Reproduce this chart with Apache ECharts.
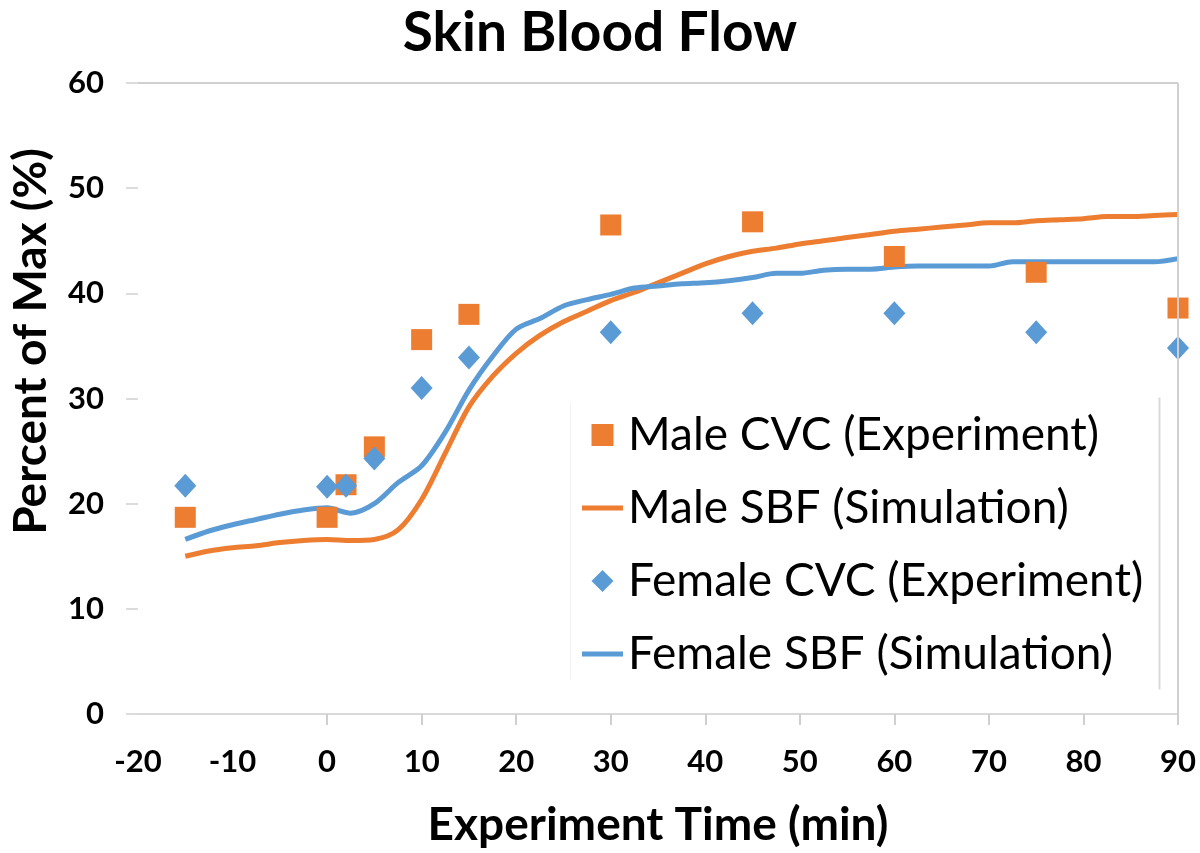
<!DOCTYPE html>
<html>
<head>
<meta charset="utf-8">
<script src="https://cdn.jsdelivr.net/npm/echarts@6/dist/echarts.min.js"></script>
<style>
html,body{margin:0;padding:0;background:#fff;}
#chart{width:1200px;height:853px;}
</style>
</head>
<body>
<div id="chart"></div>
<script>
// Experimental time points (min)
const expTime = [-15, 0, 2, 5, 10, 15, 30, 45, 60, 75, 90];
const maleCVC = [18.7, 18.7, 21.8, 25.4, 35.6, 38.0, 46.5, 46.8, 43.5, 42.0, 38.6];
const femaleCVC = [21.7, 21.6, 21.7, 24.3, 31.0, 33.9, 36.3, 38.1, 38.1, 36.3, 34.8];

// Simulation time points (min)
const simTime = [-15, -12.5, -10, -7.5, -5, -2.5, 0, 2.5, 5, 7.5, 10, 12.5, 15, 17.5, 20, 22.5, 25, 27.5, 30, 32.5, 35, 37.5, 40, 42.5, 45, 47.5, 50, 52.5, 55, 57.5, 60, 62.5, 65, 67.5, 70, 72.5, 75, 77.5, 80, 82.5, 85, 87.5, 90];
const maleSBF = [15.0, 15.5, 15.8, 16.0, 16.3, 16.5, 16.6, 16.5, 16.6, 17.5, 20.4, 24.8, 29.2, 32.1, 34.3, 36.0, 37.3, 38.3, 39.3, 40.1, 41.0, 41.9, 42.8, 43.5, 44.0, 44.3, 44.7, 45.0, 45.3, 45.6, 45.9, 46.1, 46.3, 46.5, 46.7, 46.7, 46.9, 47.0, 47.1, 47.3, 47.3, 47.4, 47.5];
const femaleSBF = [16.6, 17.4, 18.0, 18.5, 19.0, 19.4, 19.6, 19.1, 20.0, 22.0, 23.6, 26.8, 30.8, 34.0, 36.6, 37.6, 38.8, 39.4, 39.9, 40.5, 40.7, 40.9, 41.0, 41.2, 41.5, 41.9, 41.9, 42.2, 42.3, 42.3, 42.5, 42.6, 42.6, 42.6, 42.6, 43.0, 43.0, 43.0, 43.0, 43.0, 43.0, 43.0, 43.3];

const xTicks = [0, 10, 20, 30, 40, 50, 60, 70, 80, 90];
const labels = {
  title: 'Skin Blood Flow',
  xName: 'Experiment Time (min)',
  yName: 'Percent of Max (%)',
  s1: 'Male CVC (Experiment)',
  s2: 'Male SBF (Simulation)',
  s3: 'Female CVC (Experiment)',
  s4: 'Female SBF (Simulation)'
};

const ORANGE = '#ED7D31';
const BLUE = '#5B9BD5';
const FONT = 'Lato';
const ICON_SQUARE = 'path://M0,0H22V22H0Z';
const ICON_DIAMOND = 'path://M11,0L22,11L11,22L0,11Z';
const ICON_LINE = 'path://M0,0H41V5H0Z';

const zip = (a, b) => a.map((v, i) => [v, b[i]]);

const chart = echarts.init(document.getElementById('chart'), null, {renderer: 'canvas'});
chart.setOption({
  animation: false,
  backgroundColor: '#ffffff',
  title: {
    text: labels.title,
    left: 'center',
    top: 1,
    textStyle: {fontFamily: FONT, fontWeight: 'bold', fontSize: 55, color: '#000'}
  },
  grid: {left: 134, right: 22, top: 83, bottom: 132, containLabel: false},
  legend: {
    orient: 'vertical',
    left: 577,
    top: 407,
    itemWidth: 41,
    itemHeight: 22,
    itemGap: 27,
    textStyle: {fontFamily: FONT, fontSize: 46, color: '#000'},
    data: [
      {name: labels.s1, icon: ICON_SQUARE},
      {name: labels.s2, icon: ICON_LINE},
      {name: labels.s3, icon: ICON_DIAMOND},
      {name: labels.s4, icon: ICON_LINE}
    ]
  },
  xAxis: {
    type: 'value',
    min: -20, max: 90, interval: 10,
    name: labels.xName,
    nameLocation: 'middle',
    nameGap: 88,
    nameTextStyle: {fontFamily: FONT, fontWeight: 'bold', fontSize: 46, color: '#000'},
    axisLine: {show: true, onZero: false, lineStyle: {color: '#d9d9d9', width: 2}},
    axisTick: {show: true, customValues: xTicks, length: 11, lineStyle: {color: '#cfcfcf', width: 2}},
    axisLabel: {fontFamily: FONT, fontWeight: 'bold', fontSize: 31, color: '#000', margin: 32},
    splitLine: {show: false}
  },
  yAxis: {
    type: 'value',
    min: 0, max: 60, interval: 10,
    name: labels.yName,
    nameLocation: 'middle',
    nameGap: 84,
    nameTextStyle: {fontFamily: FONT, fontWeight: 'bold', fontSize: 46, color: '#000', padding: [0, 0, 0, 114]},
    axisLine: {show: false, onZero: false},
    axisTick: {show: true, length: 12, lineStyle: {color: '#dcdcdc', width: 2}},
    axisLabel: {fontFamily: FONT, fontWeight: 'bold', fontSize: 31, color: '#000', margin: 34},
    splitLine: {show: false}
  },
  series: [
    {
      name: labels.s1,
      type: 'scatter',
      symbol: 'rect',
      symbolSize: 21,
      itemStyle: {color: ORANGE, opacity: 1},
      data: zip(expTime, maleCVC),
      z: 3,
      markLine: {
        silent: true,
        symbol: 'none',
        label: {show: false},
        lineStyle: {color: '#d0d0d0', width: 2, type: 'solid'},
        data: [{yAxis: 60}, {xAxis: 90}]
      }
    },
    {
      name: labels.s2,
      type: 'line',
      symbol: 'none',
      smooth: 0.3,
      lineStyle: {color: ORANGE, width: 5},
      itemStyle: {color: ORANGE},
      data: zip(simTime, maleSBF),
      z: 2
    },
    {
      name: labels.s3,
      type: 'scatter',
      symbol: 'diamond',
      symbolSize: [22, 24],
      itemStyle: {color: BLUE, opacity: 1},
      data: zip(expTime, femaleCVC),
      z: 3
    },
    {
      name: labels.s4,
      type: 'line',
      symbol: 'none',
      smooth: 0.3,
      lineStyle: {color: BLUE, width: 5},
      itemStyle: {color: BLUE},
      data: zip(simTime, femaleSBF),
      z: 2
    }
  ],
  graphic: [
    {
      type: 'line',
      left: 1157, top: 395,
      shape: {x1: 0, y1: 0, x2: 0, y2: 292},
      style: {stroke: '#d9d9d9', lineWidth: 2},
      silent: true
    },
    {
      type: 'line',
      left: 568, top: 400,
      shape: {x1: 0, y1: 0, x2: 0, y2: 277},
      style: {stroke: '#f2f2f2', lineWidth: 1},
      silent: true
    }
  ]
});
</script>
</body>
</html>
